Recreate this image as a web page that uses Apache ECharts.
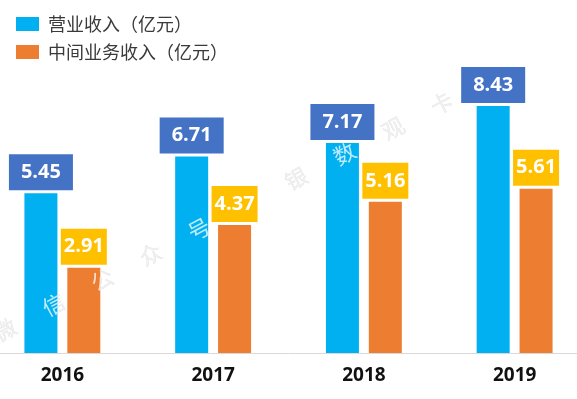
<!DOCTYPE html>
<html>
<head>
<meta charset="utf-8">
<script src="https://cdn.jsdelivr.net/npm/echarts@6/dist/echarts.min.js"></script>
<style>
  html, body { margin: 0; padding: 0; background: #fff; }
  #chart { width: 577px; height: 399px; }
</style>
</head>
<body>
<div id="chart"></div>
<script>
const years = ['2016', '2017', '2018', '2019'];
const revenue = [5.45, 6.71, 7.17, 8.43];
const feeIncome = [2.91, 4.37, 5.16, 5.61];
const seriesNames = ['营业收入（亿元）', '中间业务收入（亿元）'];
const watermark = ['微', '信', '公', '众', '号', '', '银', '数', '观', '卡'];

const numFont = "'Open Sans', 'Noto Sans CJK SC', sans-serif";
const cjkFont = "'Noto Sans CJK SC', sans-serif";

// watermark characters laid out along a diagonal
function watermarkLayer(fill, z) {
  const items = [];
  watermark.forEach(function (ch, i) {
    if (!ch) return;
    items.push({
      type: 'text',
      x: 5 + i * 48.5,
      y: 330 - i * 25.2,
      rotation: 0.49,
      z: z,
      silent: true,
      style: {
        text: ch,
        fill: fill,
        font: '22px ' + cjkFont,
        align: 'center',
        verticalAlign: 'middle'
      }
    });
  });
  return items;
}

const chart = echarts.init(document.getElementById('chart'));

const option = {
  animation: false,
  backgroundColor: '#fff',
  legend: {
    orient: 'vertical',
    left: 11,
    top: 10,
    itemWidth: 23,
    itemHeight: 14,
    itemGap: 10,
    icon: 'rect',
    textStyle: {
      fontFamily: cjkFont,
      fontSize: 18,
      color: '#3a3a3a',
      padding: [0, 0, 0, 4]
    },
    data: seriesNames
  },
  grid: {
    left: -13, right: -13, top: 60, bottom: 46,
    containLabel: false,
    outerBoundsMode: 'none'
  },
  xAxis: {
    type: 'category',
    data: years,
    axisLine: { lineStyle: { color: '#d9d9d9' } },
    axisTick: { show: false },
    axisLabel: {
      margin: 13,
      fontFamily: numFont,
      fontWeight: 'bold',
      fontSize: 19,
      color: '#111'
    }
  },
  yAxis: {
    type: 'value',
    min: 0,
    max: 10,
    show: false,
    splitLine: { show: false }
  },
  graphic: watermarkLayer('#c4c4c4', 0).concat(watermarkLayer('rgba(255,255,255,0.75)', 100)),
  series: [
    {
      name: seriesNames[0],
      type: 'bar',
      data: revenue,
      barWidth: 33,
      barGap: '30%',
      itemStyle: { color: '#00b0f0' },
      label: {
        show: true,
        position: 'top',
        distance: 3,
        formatter: function (p) { return p.value.toFixed(2); },
        backgroundColor: '#4472c4',
        color: '#fff',
        fontFamily: numFont,
        fontWeight: 'bold',
        fontSize: 20,
        lineHeight: 20,
        padding: [8, 12]
      }
    },
    {
      name: seriesNames[1],
      type: 'bar',
      data: feeIncome,
      barWidth: 33,
      itemStyle: { color: '#ed7d31' },
      label: {
        show: true,
        position: 'top',
        distance: 3,
        formatter: function (p) { return p.value.toFixed(2); },
        backgroundColor: '#ffc000',
        color: '#fff',
        fontFamily: numFont,
        fontWeight: 'bold',
        fontSize: 20,
        lineHeight: 20,
        padding: [8, 3]
      }
    }
  ]
};

chart.setOption(option);
</script>
</body>
</html>
